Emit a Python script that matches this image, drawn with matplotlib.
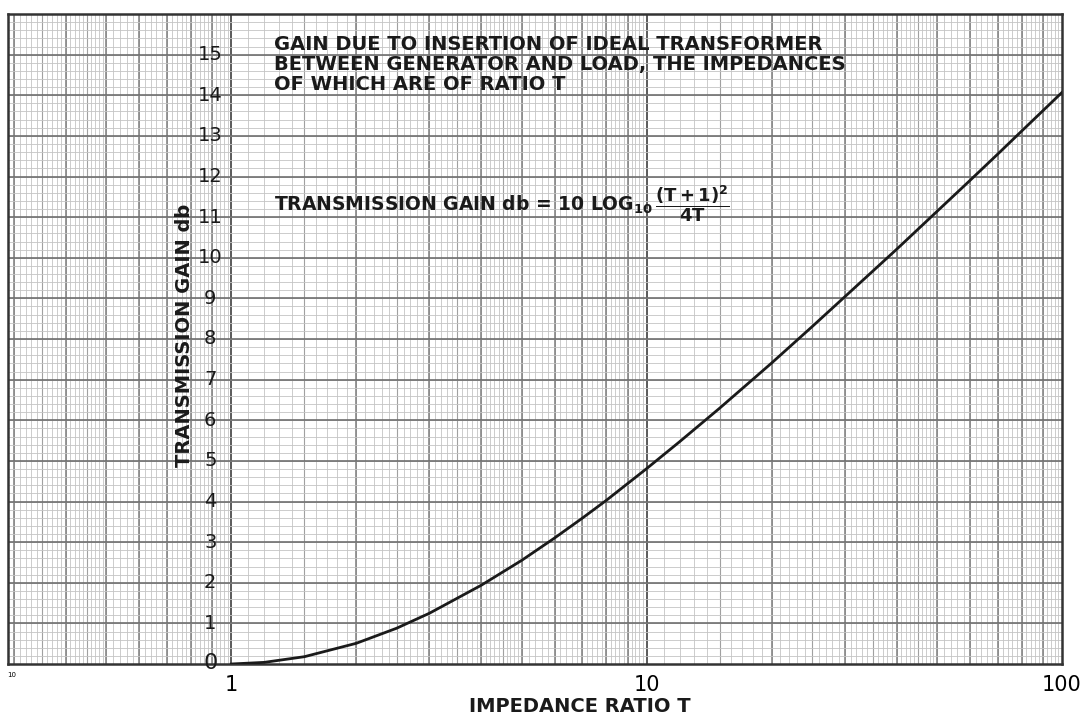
import numpy as np
import matplotlib.pyplot as plt

# values
ratio_t = [1, 1.2, 1.5, 2, 2.5, 3, 4, 5, 6, 7, 8, 10, 12, 15, 20, 25, 30,
           40, 50, 60, 70, 80, 100]
gain_db = [0.0, 0.04, 0.18, 0.51, 0.88, 1.25, 1.94, 2.55, 3.10, 3.59, 4.03,
           4.81, 5.47, 6.30, 7.41, 8.30, 9.04, 10.21, 11.14, 11.90, 12.55,
           13.12, 14.07]

x_labels = [1, 10, 100]
y_labels = list(range(1, 16))

title_lines = ["GAIN DUE TO INSERTION OF IDEAL TRANSFORMER",
               "BETWEEN GENERATOR AND LOAD, THE IMPEDANCES",
               "OF WHICH ARE OF RATIO T"]

plt.rcParams["mathtext.fontset"] = "dejavusans"

fig = plt.figure(figsize=(10.91, 7.21), dpi=100)
ax = fig.add_axes([8 / 1091, 57 / 721, 1054 / 1091, 650 / 721])
ax.set_xscale("log")
ax.set_xlim(0.29, 100)
ax.set_ylim(0, 16)

# ------------------------------------------------------------
# graph paper
# ------------------------------------------------------------
fine = []
for d in [0.1, 1, 10]:
    fine += list(np.arange(1.0, 5.0, 0.1) * d)
    fine += list(np.arange(5.0, 10.0, 0.2) * d)
fine = [v for v in fine if 0.29 <= v <= 100]
ax.vlines(fine, 0, 16, colors="#c4c4c4", lw=0.6, zorder=0)

halves = [v * d for d in [0.1, 1, 10] for v in [1.5, 2.5, 3.5, 4.5]]
halves = [v for v in halves if 0.29 <= v <= 100]
ax.vlines(halves, 0, 16, colors="#a0a0a0", lw=0.8, zorder=0)

units = [v * d for d in [0.1, 1, 10] for v in range(2, 10)]
units = [v for v in units if 0.29 <= v <= 100]
ax.vlines(units, 0, 16, colors="#7c7c7c", lw=1.1, zorder=0)
ax.vlines([1, 10], 0, 16, colors="#5a5a5a", lw=1.4, zorder=0)

ax.hlines(np.arange(0, 16, 0.2), 0.29, 100, colors="#c4c4c4", lw=0.6, zorder=0)
ax.hlines(range(1, 16), 0.29, 100, colors="#6e6e6e", lw=1.2, zorder=0)

for s in ax.spines.values():
    s.set_linewidth(1.8)
    s.set_color("#333333")

# ------------------------------------------------------------
# curve
# ------------------------------------------------------------
ax.plot(ratio_t, gain_db, color="#1a1a1a", lw=2.0, zorder=3)

# ------------------------------------------------------------
# labels
# ------------------------------------------------------------
ax.set_xticks(x_labels)
ax.set_xticklabels([str(v) for v in x_labels], fontsize=15)
ax.set_xticks([], minor=True)
ax.set_yticks([])
ax.tick_params(axis="x", length=0, pad=8)

for v in y_labels:
    ax.text(0.89, v, str(v), ha="center", va="center", fontsize=14,
            color="#1a1a1a", zorder=4)
ax.text(0.89, 0.02, "0", ha="center", va="center", fontsize=16,
        color="#1a1a1a", zorder=4)
fig.text(12 / 1091, 1 - 675 / 721, "10", fontsize=5, ha="center",
         va="center")

ax.text(0.77, 8.1, "TRANSMISSION GAIN db", rotation=90, ha="center",
        va="center", fontsize=14, fontweight="bold", color="#1a1a1a",
        zorder=4)

fig.text(580 / 1091, 1 - 706 / 721, "IMPEDANCE RATIO T", ha="center",
         va="center", fontsize=14, fontweight="bold", color="#1a1a1a")

for i, line in enumerate(title_lines):
    ax.text(1.27, 15.25 - i * 0.49, line, ha="left", va="center",
            fontsize=14, fontweight="bold", color="#1a1a1a", zorder=4)

# formula: text up to LOG_10, then the fraction attached to its end
eq = ax.text(1.27, 11.3,
             r"TRANSMISSION GAIN $\mathbf{db}$ = 10 LOG$_{\mathbf{10}}$",
             ha="left", va="center", fontsize=13.5, fontweight="bold",
             color="#1a1a1a", zorder=4)
ax.annotate(r"$\dfrac{\mathbf{(T+1)^2}}{\mathbf{4T}}$",
            xy=(1, 0.5), xycoords=eq, xytext=(1, 1),
            textcoords="offset points", ha="left", va="center",
            fontsize=13, color="#1a1a1a", zorder=4)

fig.savefig("out.png", dpi=100)
